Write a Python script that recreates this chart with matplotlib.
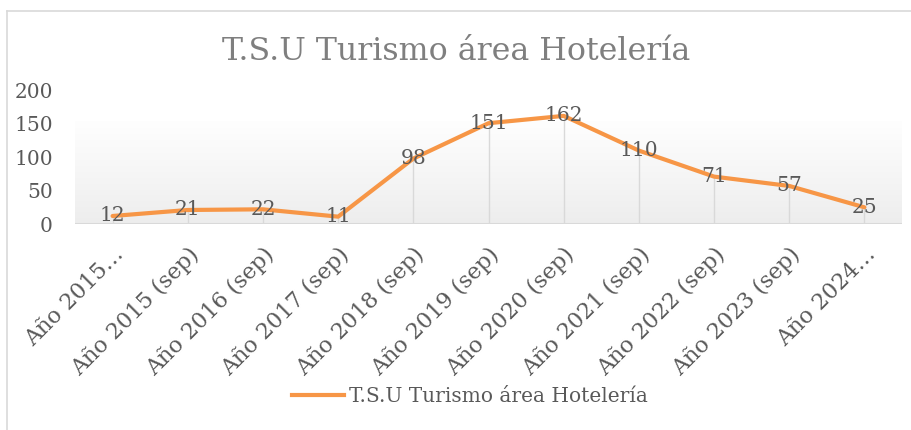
import matplotlib
matplotlib.use("Agg")
import matplotlib.pyplot as plt
import numpy as np
from matplotlib.lines import Line2D
from matplotlib.colors import LinearSegmentedColormap

categories = ["Año 2015…", "Año 2015 (sep)", "Año 2016 (sep)", "Año 2017 (sep)",
              "Año 2018 (sep)", "Año 2019 (sep)", "Año 2020 (sep)", "Año 2021 (sep)",
              "Año 2022 (sep)", "Año 2023 (sep)", "Año 2024…"]
values = [12, 21, 22, 11, 98, 151, 162, 110, 71, 57, 25]
series_name = "T.S.U Turismo área Hotelería"
yticks = [0, 50, 100, 150, 200]

FONT = "DejaVu Serif"
TXT = "#595959"
ORANGE = "#F79646"
GRID = "#d9d9d9"

W, H = 912, 430
fig = plt.figure(figsize=(W / 100, H / 100), dpi=100)
ax = fig.add_axes([75 / W, 1 - 224 / H, (902 - 75) / W, (224 - 90.5) / H])

x = np.arange(len(categories))
ax.set_xlim(-0.5, len(categories) - 0.5)
ax.set_ylim(0, 200)

# gradient plot-area fill
cmap = LinearSegmentedColormap.from_list("g", ["#ededed", "#f6f6f6", "#fefefe"])
grad = np.linspace(0, 1, 256).reshape(-1, 1)
ax.imshow(grad, cmap=cmap, origin="lower", aspect="auto",
          extent=[-0.5, len(categories) - 0.5, 0, 154], zorder=0)

ax.vlines(x, 0, values, color=GRID, lw=1.0, zorder=1)
ax.axhline(0, color=GRID, lw=1.5, zorder=1)
ax.plot(x, values, color=ORANGE, lw=3, solid_capstyle="round",
        solid_joinstyle="round", zorder=3)

for xi, v in zip(x, values):
    ax.text(xi, v, str(v), ha="center", va="center", fontsize=14.5,
            family=FONT, color=TXT, zorder=4)

for s in ax.spines.values():
    s.set_visible(False)
ax.set_yticks(yticks)
ax.set_yticklabels([str(t) for t in yticks], family=FONT, fontsize=14.5, color=TXT)
ax.tick_params(axis="y", length=0, pad=16)
for lab in ax.get_yticklabels():
    lab.set_ha("right")
ax.set_xticks(x)
ax.set_xticklabels(categories, rotation=45, ha="right", rotation_mode="anchor",
                   family=FONT, fontsize=16, color=TXT)
ax.tick_params(axis="x", length=0, pad=14)

fig.text(0.5, 1 - 52 / H, series_name, ha="center", va="center",
         fontsize=22.8, family=FONT, color="#7f7f7f")

handle = Line2D([0], [0], color=ORANGE, lw=3)
leg = fig.legend([handle], [series_name], loc="center",
                 bbox_to_anchor=(470 / W, 1 - 397 / H), frameon=False,
                 prop={"family": FONT, "size": 14.5}, handlelength=2.6,
                 handletextpad=0.25)
for t in leg.get_texts():
    t.set_color(TXT)

# chart border (top and left visible)
fig.add_artist(Line2D([7.5 / W, 1], [1 - 10.5 / H, 1 - 10.5 / H], color=GRID, lw=1.2,
                      transform=fig.transFigure))
fig.add_artist(Line2D([7.5 / W, 7.5 / W], [0, 1 - 10.5 / H], color=GRID, lw=1.2,
                      transform=fig.transFigure))

fig.savefig("out.png", dpi=100, facecolor="white")
